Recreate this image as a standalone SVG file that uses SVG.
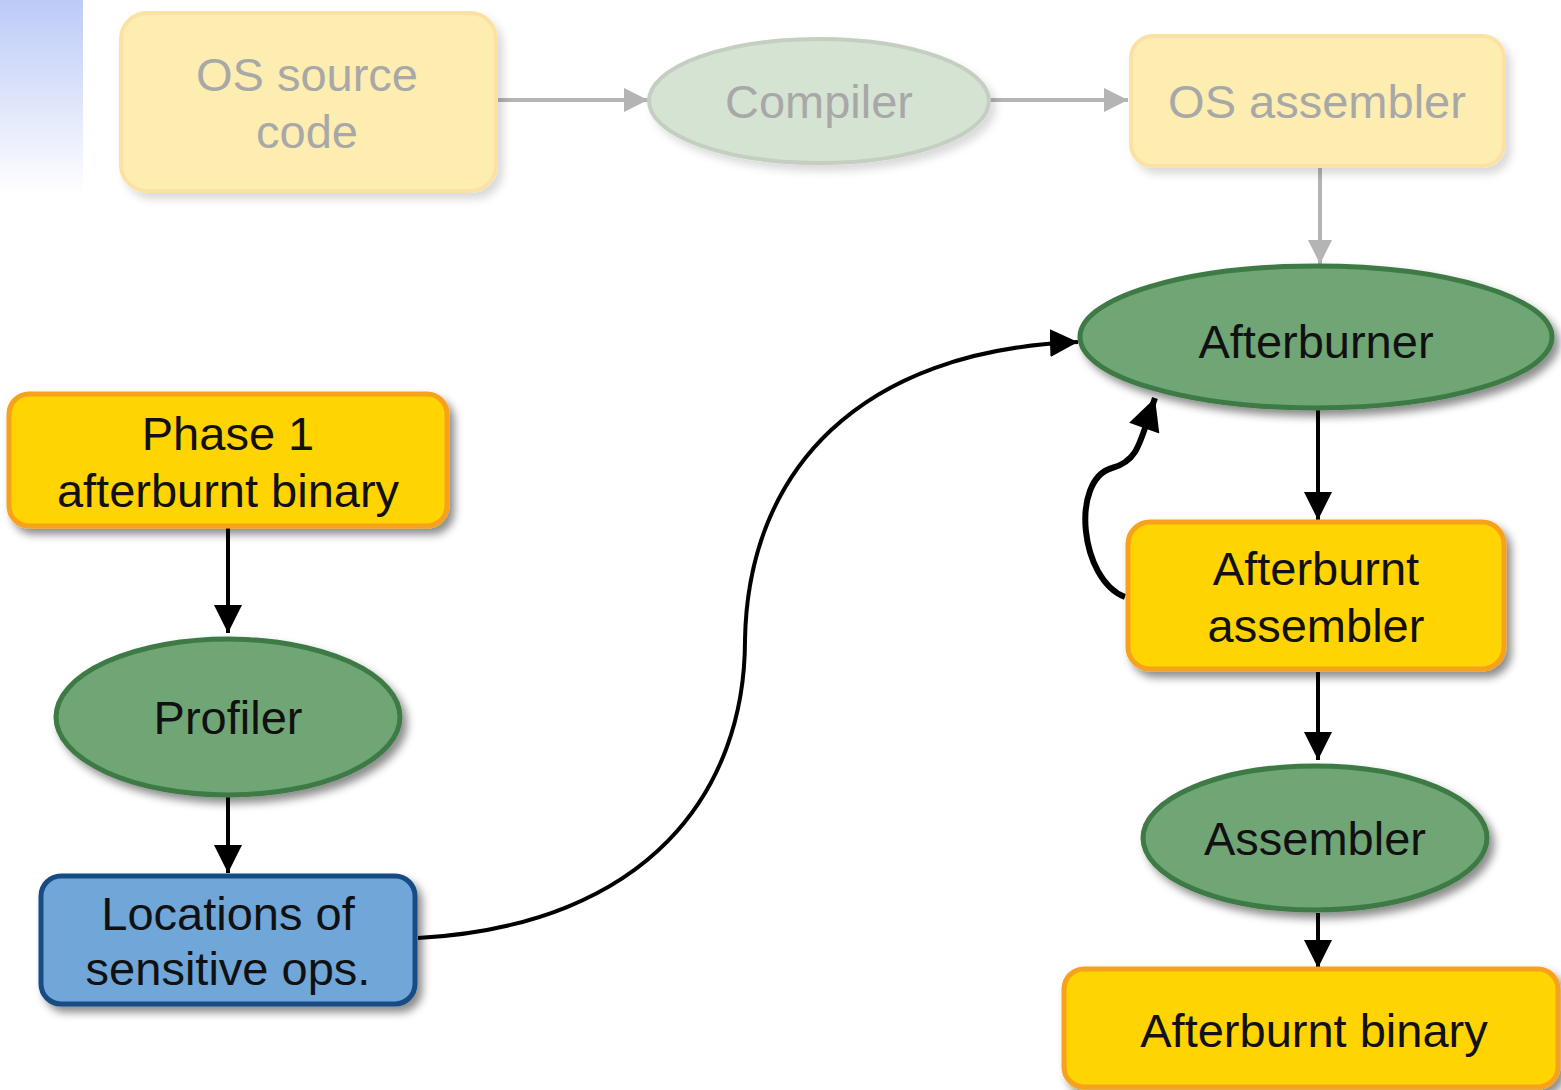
<svg xmlns="http://www.w3.org/2000/svg" width="1561" height="1090" viewBox="0 0 1561 1090">
  <defs>
    <linearGradient id="cornerFade" x1="0" y1="0" x2="0" y2="1">
      <stop offset="0" stop-color="#bccaf6"/>
      <stop offset="1" stop-color="#ffffff"/>
    </linearGradient>
    <filter id="shadow" x="-10%" y="-10%" width="125%" height="130%">
      <feDropShadow dx="5" dy="6" stdDeviation="4" flood-color="#000" flood-opacity="0.45"/>
    </filter>
    <filter id="shadowFaint" x="-10%" y="-10%" width="125%" height="130%">
      <feDropShadow dx="5" dy="6" stdDeviation="4" flood-color="#000" flood-opacity="0.15"/>
    </filter>
    <marker id="arrowBlack" viewBox="0 0 10 10" refX="10" refY="5" markerWidth="28" markerHeight="28" markerUnits="userSpaceOnUse" orient="auto">
      <path d="M0,0 L10,5 L0,10 Z" fill="#000"/>
    </marker>
    <marker id="arrowBig" viewBox="0 0 10 10" refX="10" refY="5" markerWidth="34" markerHeight="32" markerUnits="userSpaceOnUse" orient="auto">
      <path d="M0,0 L10,5 L0,10 Z" fill="#000"/>
    </marker>
    <marker id="arrowGray" viewBox="0 0 10 10" refX="10" refY="5" markerWidth="26" markerHeight="24" markerUnits="userSpaceOnUse" orient="auto">
      <path d="M0,0 L10,5 L0,10 Z" fill="#b4b4b4"/>
    </marker>
  </defs>
  <style>
    text { font-family: "Liberation Sans", Arial, sans-serif; font-size: 47px; text-anchor: middle; dominant-baseline: central; fill: #111; }
    .faded text { fill: #a8a8a8; }
    .box { fill: #ffd400; stroke: #f7a21b; stroke-width: 5; filter: url(#shadow); }
    .oval { fill: #6fa574; stroke: #3d7a44; stroke-width: 5; filter: url(#shadow); }
    .data { fill: #6fa6d8; stroke: #174c84; stroke-width: 5; filter: url(#shadow); }
    .fbox { fill: #fdedb0; stroke: #fbe2a4; stroke-width: 4; filter: url(#shadowFaint); }
    .foval { fill: #d5e3d3; stroke: #c4cfc2; stroke-width: 4; filter: url(#shadowFaint); }
    .edge { fill: none; stroke: #000; stroke-width: 4; marker-end: url(#arrowBlack); }
    .loop { fill: none; stroke: #000; stroke-width: 6; marker-end: url(#arrowBig); }
    .fedge { fill: none; stroke: #b4b4b4; stroke-width: 4; marker-end: url(#arrowGray); }
  </style>

  <rect width="1561" height="1090" fill="#ffffff"/>
  <!-- slide corner band -->
  <rect x="0" y="0" width="83" height="195" fill="url(#cornerFade)"/>

  <!-- connectors -->
  <g id="connectors">
    <path class="fedge" d="M497,100 L648,100"/>
    <path class="fedge" d="M990,100 L1128,100"/>
    <path class="fedge" d="M1320,168 L1320,264"/>
    <path class="edge" d="M1318,410 L1318,520"/>
    <path class="edge" d="M1318,672 L1318,760"/>
    <path class="edge" d="M1318,913 L1318,968"/>
    <path class="edge" d="M228,528 L228,633"/>
    <path class="edge" d="M228,797 L228,873"/>
    <path class="edge" d="M418,938 C650,925 745,790 745,640 C748,470 860,350 1078,342"/>
    <path class="loop" d="M1125,597 C1080,580 1070,480 1112,468 C1140,460 1140,440 1155,398"/>
  </g>

  <!-- faded upstream stage -->
  <g class="faded">
    <g id="os-source">
      <rect class="fbox" x="121" y="13" width="375" height="178" rx="26"/>
      <text x="307" y="74">OS source</text>
      <text x="307" y="131">code</text>
    </g>
    <g id="compiler">
      <ellipse class="foval" cx="819" cy="101" rx="170" ry="62"/>
      <text x="819" y="101">Compiler</text>
    </g>
    <g id="os-assembler">
      <rect class="fbox" x="1131" y="36" width="373" height="130" rx="22"/>
      <text x="1317" y="101">OS assembler</text>
    </g>
  </g>

  <!-- profiling stage -->
  <g id="phase1">
    <rect class="box" x="9" y="394" width="438" height="132" rx="20"/>
    <text x="228" y="433">Phase 1</text>
    <text x="228" y="490">afterburnt binary</text>
  </g>
  <g id="profiler">
    <ellipse class="oval" cx="228" cy="717" rx="172" ry="78"/>
    <text x="228" y="717">Profiler</text>
  </g>
  <g id="locations">
    <rect class="data" x="41" y="876" width="374" height="128" rx="20"/>
    <text x="228" y="913">Locations of</text>
    <text x="228" y="968">sensitive ops.</text>
  </g>

  <!-- rewriting stage -->
  <g id="afterburner">
    <ellipse class="oval" cx="1316" cy="337" rx="236" ry="71"/>
    <text x="1316" y="341">Afterburner</text>
  </g>
  <g id="afterburnt-assembler">
    <rect class="box" x="1128" y="522" width="376" height="147" rx="22"/>
    <text x="1316" y="568">Afterburnt</text>
    <text x="1316" y="625">assembler</text>
  </g>
  <g id="assembler">
    <ellipse class="oval" cx="1315" cy="838" rx="172" ry="72"/>
    <text x="1315" y="838">Assembler</text>
  </g>
  <g id="afterburnt-binary">
    <rect class="box" x="1064" y="969" width="494" height="118" rx="20"/>
    <text x="1314" y="1030">Afterburnt binary</text>
  </g>
</svg>
